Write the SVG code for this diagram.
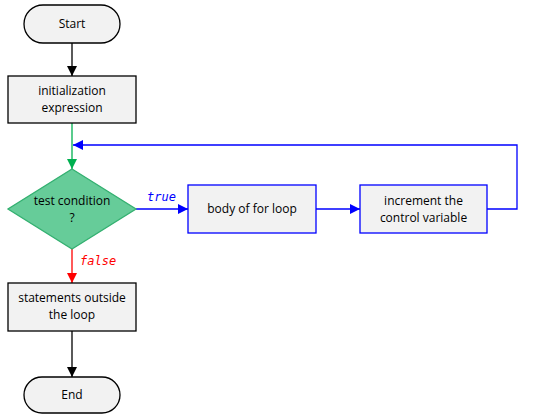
<svg xmlns="http://www.w3.org/2000/svg" width="546" height="420" viewBox="0 0 546 420">
<defs>
<marker id="ak" markerWidth="10" markerHeight="10" refX="10" refY="5" orient="auto" markerUnits="userSpaceOnUse"><path d="M0,0 L10,5 L0,10 Z" fill="#000"/></marker>
<marker id="ab" markerWidth="10" markerHeight="10" refX="10" refY="5" orient="auto" markerUnits="userSpaceOnUse"><path d="M0,0 L10,5 L0,10 Z" fill="#0000ff"/></marker>
<marker id="ag" markerWidth="10" markerHeight="10" refX="10" refY="5" orient="auto" markerUnits="userSpaceOnUse"><path d="M0,0 L10,5 L0,10 Z" fill="#00b050"/></marker>
<marker id="ar" markerWidth="10" markerHeight="10" refX="10" refY="5" orient="auto" markerUnits="userSpaceOnUse"><path d="M0,0 L10,5 L0,10 Z" fill="#ff0000"/></marker>
</defs>
<style>
.box{fill:#f2f2f2;stroke:#000;stroke-width:1.3}
.bbox{fill:#f2f2f2;stroke:#0000ff;stroke-width:1.3}
.dia{fill:#66cc99;stroke:#33b070;stroke-width:1.3}
.t{font-family:"Open Sans","Noto Sans","Liberation Sans",sans-serif;font-size:12px;fill:#000;text-anchor:middle}
.lbl{font-family:"DejaVu Sans Mono","Liberation Mono",monospace;font-style:italic;font-size:12px}
.c{fill:none;stroke-width:1.3}
</style>
<rect width="546" height="420" fill="#fff"/>
<g id="connectors">
<line class="c" x1="72" y1="43" x2="72" y2="76" stroke="#000" marker-end="url(#ak)"/>
<line class="c" x1="72" y1="123" x2="72" y2="169" stroke="#00b050" marker-end="url(#ag)"/>
<line class="c" x1="136" y1="209" x2="188" y2="209" stroke="#0000ff" marker-end="url(#ab)"/>
<line class="c" x1="316" y1="209" x2="360" y2="209" stroke="#0000ff" marker-end="url(#ab)"/>
<polyline class="c" points="487,209 517,209 517,145 73,145" stroke="#0000ff" marker-end="url(#ab)"/>
<line class="c" x1="72" y1="249" x2="72" y2="283" stroke="#ff0000" marker-end="url(#ar)"/>
<line class="c" x1="72" y1="331" x2="72" y2="377" stroke="#000" marker-end="url(#ak)"/>
<text class="lbl" x="147" y="201" fill="#0000ff">true</text>
<text class="lbl" x="80" y="265" fill="#ff0000">false</text>
</g>
<g id="start">
<rect class="box" x="24" y="5" width="96" height="38" rx="19" ry="19"/>
<text class="t" x="72" y="28">Start</text>
</g>
<g id="init">
<rect class="box" x="8" y="76" width="128" height="47"/>
<text class="t" x="72" y="95">initialization</text>
<text class="t" x="72" y="112">expression</text>
</g>
<g id="cond">
<polygon class="dia" points="72,169 136,209 72,249 8,209"/>
<text class="t" x="72" y="205">test condition</text>
<text class="t" x="72" y="222">?</text>
</g>
<g id="body">
<rect class="bbox" x="188" y="185" width="128" height="48"/>
<text class="t" x="252" y="213">body of for loop</text>
</g>
<g id="incr">
<rect class="bbox" x="360" y="185" width="127" height="48"/>
<text class="t" x="423.500" y="205">increment the</text>
<text class="t" x="423.500" y="222">control variable</text>
</g>
<g id="outside">
<rect class="box" x="8" y="283" width="128" height="48"/>
<text class="t" x="72" y="302">statements outside</text>
<text class="t" x="72" y="319">the loop</text>
</g>
<g id="end">
<rect class="box" x="24" y="377" width="96" height="36" rx="18" ry="18"/>
<text class="t" x="72" y="399">End</text>
</g>
</svg>
